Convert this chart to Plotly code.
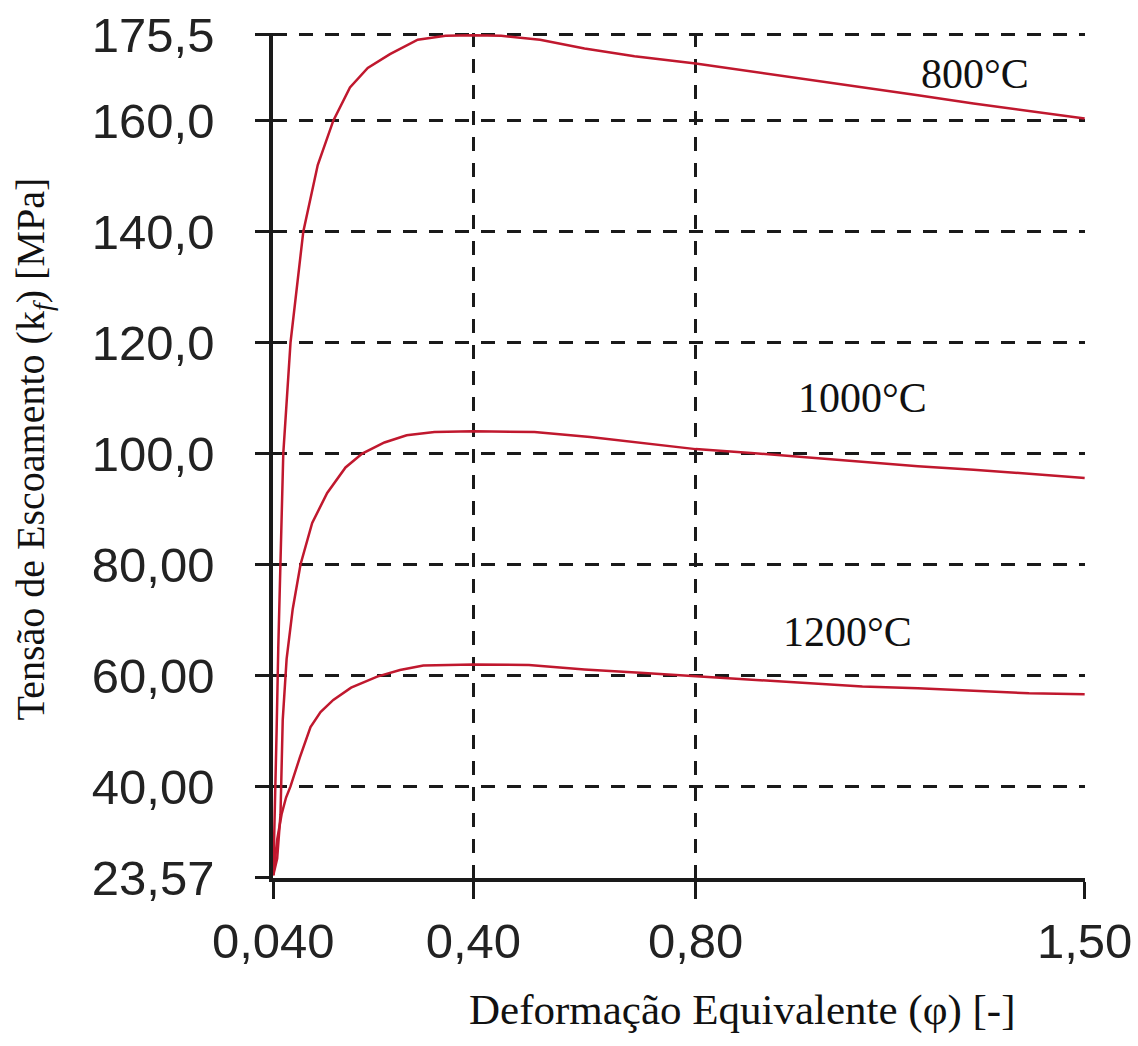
import plotly.graph_objects as go

# ---- data ----
strain_800 = [0.04, 0.043, 0.046, 0.049, 0.053, 0.058, 0.071, 0.094, 0.12, 0.148, 0.178, 0.21, 0.25, 0.30,
              0.35, 0.40, 0.45, 0.52, 0.60, 0.69, 0.80, 0.90, 1.00, 1.10, 1.20, 1.30, 1.40, 1.50]
stress_800 = [24, 35, 50, 65, 82, 100, 120, 140, 152, 160, 166, 169.5, 172, 174.6,
              175.3, 175.4, 175.3, 174.6, 173, 171.6, 170.3, 168.9, 167.4, 166, 164.6, 163.1, 161.7, 160.4]

strain_1000 = [0.04, 0.047, 0.053, 0.057, 0.064, 0.075, 0.089, 0.11, 0.137, 0.17, 0.20, 0.24, 0.28, 0.33,
               0.40, 0.51, 0.61, 0.72, 0.80, 0.90, 1.00, 1.10, 1.20, 1.30, 1.40, 1.50]
stress_1000 = [24, 27, 35, 52, 63, 72, 80, 87.5, 92.9, 97.5, 100, 102, 103.3, 103.9,
               104, 103.9, 103, 101.7, 100.8, 100.1, 99.3, 98.5, 97.7, 97.1, 96.3, 95.6]

strain_1200 = [0.04, 0.044, 0.047, 0.055, 0.063, 0.071, 0.088, 0.107, 0.125, 0.148, 0.18, 0.227, 0.268, 0.31,
               0.40, 0.50, 0.60, 0.70, 0.80, 0.90, 1.00, 1.10, 1.20, 1.30, 1.40, 1.50]
stress_1200 = [24, 27.5, 30.4, 35, 38, 40, 45.3, 50.7, 53.4, 55.6, 57.8, 59.8, 61, 61.8,
               62, 61.9, 61.1, 60.5, 59.9, 59.2, 58.6, 58.0, 57.7, 57.2, 56.8, 56.6]

series_labels = ["800°C", "1000°C", "1200°C"]
label_x = [1.302, 1.101, 1.074]
label_y = [168.5, 110.0, 67.9]

x_tickvals = [0.04, 0.40, 0.80, 1.50]
x_ticktext = ["0,040", "0,40", "0,80", "1,50"]
y_tickvals = [23.57, 40, 60, 80, 100, 120, 140, 160, 175.5]
y_ticktext = ["23,57", "40,00", "60,00", "80,00", "100,0", "120,0", "140,0", "160,0", "175,5"]

x_title = "Deformação Equivalente (φ) [-]"
y_title = "Tensão de Escoamento (k<sub><i>f</i></sub>) [MPa]"

LINE_COLOR = "#c0182e"
TICK_FONT = dict(family="Liberation Sans, Arial", size=49, color="#222222")
SERIF = "Liberation Serif, Times New Roman, serif"

fig = go.Figure()
for xs, ys, name in [(strain_800, stress_800, series_labels[0]),
                     (strain_1000, stress_1000, series_labels[1]),
                     (strain_1200, stress_1200, series_labels[2])]:
    fig.add_trace(go.Scatter(x=xs, y=ys, mode="lines", name=name,
                             line=dict(color=LINE_COLOR, width=2.5), showlegend=False))

for t, lx, ly in zip(series_labels, label_x, label_y):
    fig.add_annotation(x=lx, y=ly, text=t, showarrow=False,
                       font=dict(family=SERIF, size=42, color="#111111"))

fig.add_annotation(xref="paper", yref="paper", x=0.578, y=-0.156, text=x_title, showarrow=False,
                   xanchor="center", yanchor="middle",
                   font=dict(family=SERIF, size=43, color="#111111"))
fig.add_annotation(xref="paper", yref="paper", x=-0.296, y=0.508, text=y_title, showarrow=False,
                   xanchor="center", yanchor="middle",
                   textangle=-90, font=dict(family=SERIF, size=40, color="#111111"))

axis_common = dict(showline=True, linecolor="#1a1a1a", linewidth=3.5,
                   showgrid=True, gridcolor="#1a1a1a", gridwidth=3, griddash="14px,12px",
                   ticks="outside", tickcolor="#1a1a1a", tickwidth=3, zeroline=False,
                   tickfont=TICK_FONT, tickmode="array", mirror=False, automargin=False)

fig.update_xaxes(range=[0.0395, 1.5006], tickvals=x_tickvals, ticktext=x_ticktext,
                 ticklen=17, ticklabelstandoff=0, **axis_common)
fig.update_yaxes(range=[23.50, 175.80], tickvals=y_tickvals, ticktext=y_ticktext,
                 ticklen=14, ticklabelstandoff=31, **axis_common)

fig.update_layout(width=1138, height=1046,
                  margin=dict(l=273, r=53, t=33, b=168, autoexpand=False),
                  plot_bgcolor="white", paper_bgcolor="white")

# remove the default 8px body margin so the figure fills the window exactly
fig.write_html("out.html", config={"displayModeBar": False},
               post_script="document.body.style.margin='0';")
